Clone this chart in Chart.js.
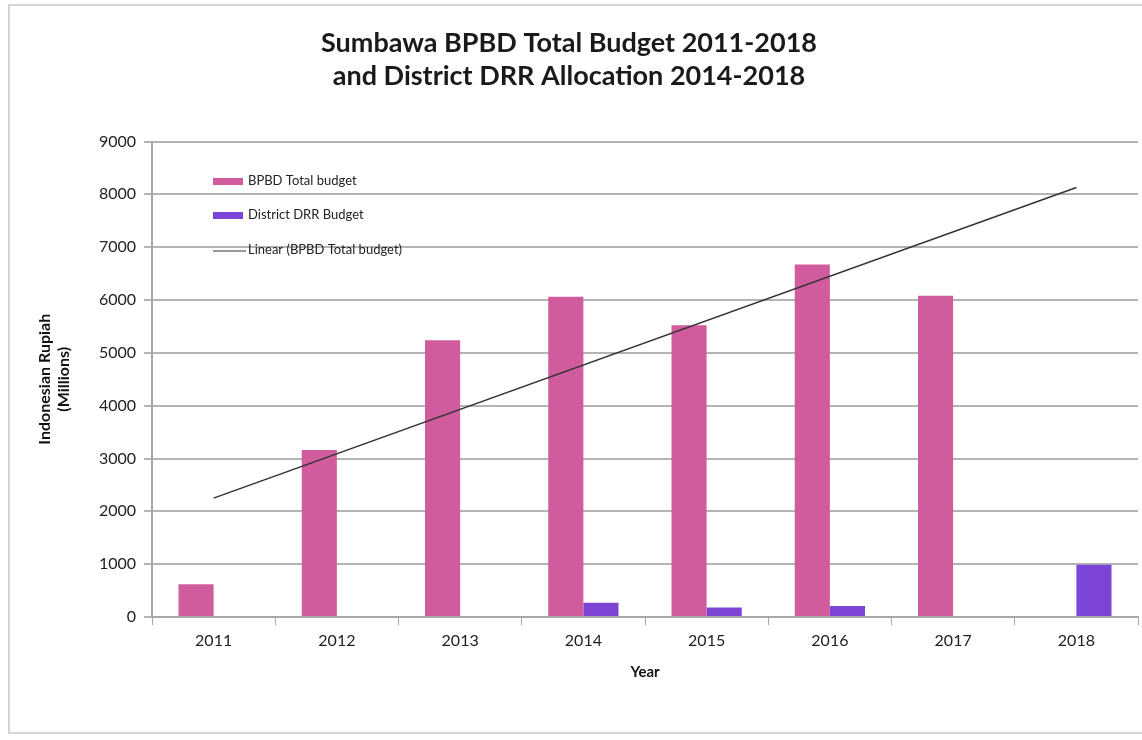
<!DOCTYPE html>
<html>
<head>
<meta charset="utf-8">
<script src="https://cdn.jsdelivr.net/npm/chart.js@4/dist/chart.umd.min.js"></script>
<style>
    html, body { margin: 0; padding: 0; background: #fff; }
    #wrap { position: relative; width: 1142px; height: 740px; }
    #frame { position: absolute; left: 8px; top: 4px; width: 1136px; height: 730px; border: 2px solid #d4d4d4; box-sizing: border-box; }
    canvas { position: absolute; left: 0; top: 0; }
</style>
</head>
<body>
<div id="wrap">
    <div id="frame"></div>
    <canvas id="budget" width="1142" height="740"></canvas>
</div>
<script>
// Valeurs (millions de roupies)
const years = ['2011', '2012', '2013', '2014', '2015', '2016', '2017', '2018'];
const bpbdTotal = [620, 3160, 5240, 6060, 5520, 6670, 6080, null];
const districtDrr = [null, null, null, 270, 180, 210, null, 990];
// Droite de tendance : seulement les deux extrémités
const trendLine = [2250, null, null, null, null, null, null, 8130];
const yTicks = [0, 1000, 2000, 3000, 4000, 5000, 6000, 7000, 8000, 9000];

const FONT = 'Lato, "Open Sans", sans-serif';
const PINK = '#D15C9D';
const PURPLE = '#7C45D5';

// Légende dessinée à l'intérieur de la zone du graphique
const innerLegend = {
    id: 'innerLegend',
    afterDraw (chart) {
        const ctx = chart.ctx;
        const x = chart.chartArea.left + 61;
        const rows = [
            { label: 'BPBD Total budget', color: PINK, kind: 'box', y: 181 },
            { label: 'District DRR Budget', color: PURPLE, kind: 'box', y: 215 },
            { label: 'Linear (BPBD Total budget)', color: '#333', kind: 'line', y: 250 }
        ];
        ctx.save();
        ctx.font = '13px ' + FONT;
        ctx.textBaseline = 'middle';
        for (let r of rows) {
            if (r.kind === 'box') {
                ctx.fillStyle = r.color;
                ctx.fillRect(x, r.y - 3, 30, 7);
            } else {
                ctx.strokeStyle = r.color;
                ctx.lineWidth = 1.2;
                ctx.beginPath();
                ctx.moveTo(x, r.y + 1);
                ctx.lineTo(x + 33, r.y + 1);
                ctx.stroke();
            }
            ctx.fillStyle = '#222';
            ctx.fillText(r.label, x + 35, r.y);
        }
        ctx.restore();
    }
};

const budgetChart = new Chart(document.getElementById('budget'), {
    type: 'bar',
    data: {
        labels: years,
        datasets: [
            {
                type: 'line',
                label: 'Linear (BPBD Total budget)',
                data: trendLine,
                spanGaps: true,
                borderColor: '#333',
                borderWidth: 1.5,
                pointRadius: 0,
                order: 0
            },
            {
                label: 'BPBD Total budget',
                data: bpbdTotal,
                backgroundColor: PINK,
                barPercentage: 1,
                categoryPercentage: 0.57,
                order: 1
            },
            {
                label: 'District DRR Budget',
                data: districtDrr,
                backgroundColor: PURPLE,
                barPercentage: 1,
                categoryPercentage: 0.57,
                order: 1
            }
        ]
    },
    options: {
        responsive: false,
        animation: false,
        layout: { padding: { top: 0, right: 4, bottom: 55, left: 0 } },
        plugins: {
            legend: { display: false },
            tooltip: { enabled: false },
            title: {
                display: true,
                text: ['Sumbawa BPBD Total Budget 2011-2018', 'and District DRR Allocation 2014-2018'],
                color: '#1a1a1a',
                font: { family: FONT, size: 27, weight: 'bold', lineHeight: 1.25 },
                padding: { top: 26, bottom: 48 }
            }
        },
        scales: {
            x: {
                grid: { drawOnChartArea: false, drawTicks: true, tickLength: 8, color: '#a8a8a8', offset: true },
                border: { color: '#a8a8a8', width: 2 },
                ticks: { color: '#222', font: { family: FONT, size: 16 }, padding: 6 },
                title: {
                    display: true,
                    text: 'Year',
                    color: '#111',
                    font: { family: FONT, size: 15, weight: 'bold' },
                    padding: { top: 2 }
                },
                afterFit (scale) { scale.height = 68; }
            },
            y: {
                min: 0,
                max: 9000,
                afterBuildTicks (scale) { scale.ticks = yTicks.map(v => ({ value: v })); },
                grid: { color: '#b4b4b4', lineWidth: 2, tickLength: 8 },
                border: { color: '#a8a8a8', width: 2 },
                ticks: { color: '#222', font: { family: FONT, size: 16 }, padding: 8, callback: v => String(v) },
                title: {
                    display: true,
                    text: ['Indonesian Rupiah', '(Millions)'],
                    color: '#111',
                    font: { family: FONT, size: 16, weight: 'bold', lineHeight: 1.15 },
                    padding: { top: 36, bottom: 0 }
                },
                afterFit (scale) { scale.width = 152; }
            }
        }
    },
    plugins: [innerLegend]
});
</script>
</body>
</html>
